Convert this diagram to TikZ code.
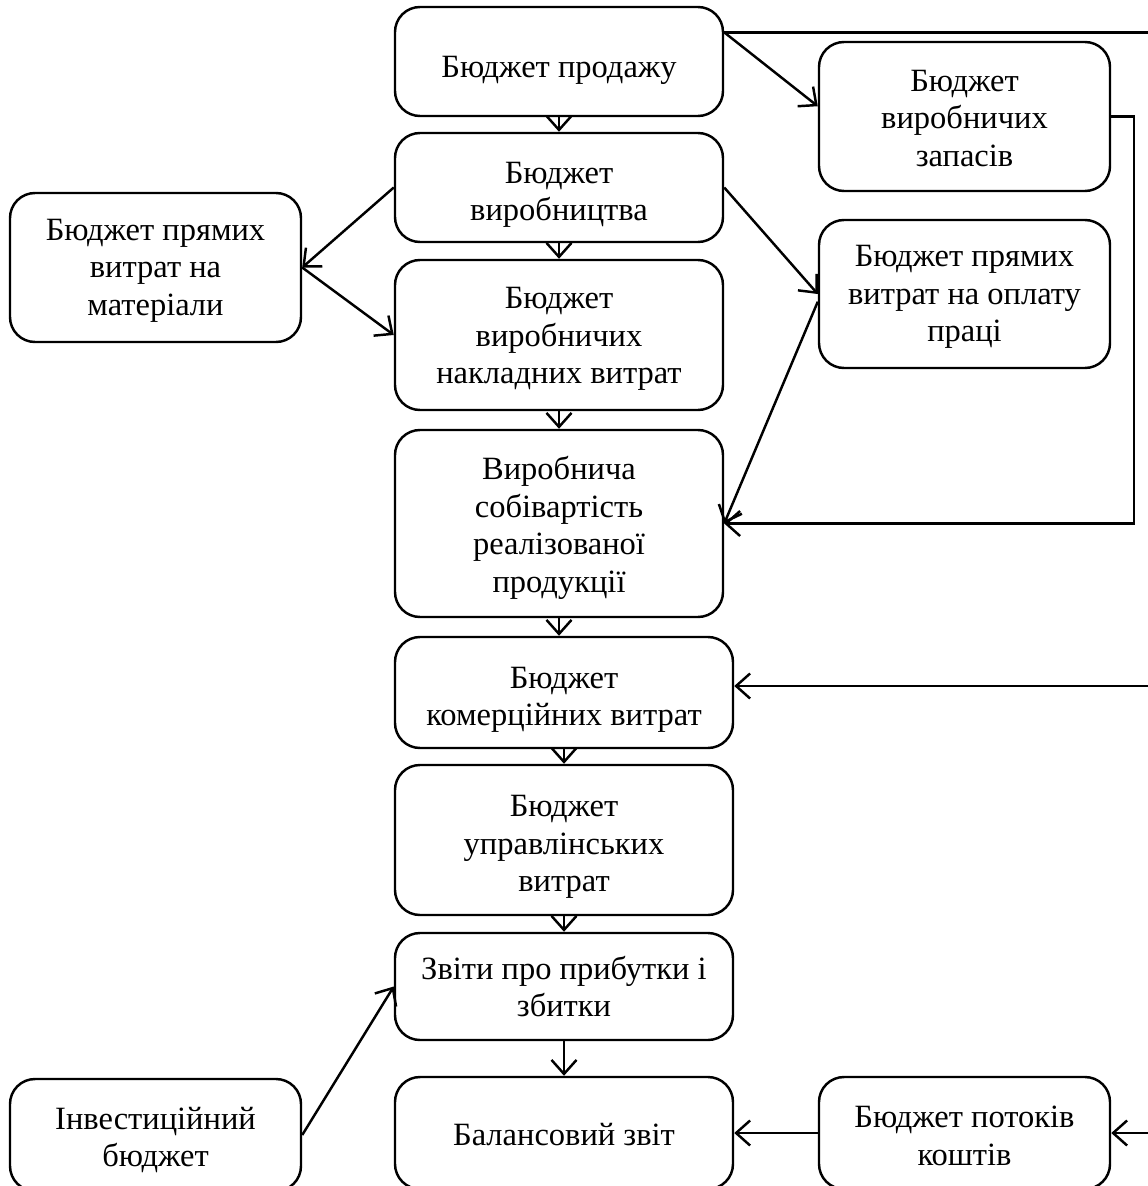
\documentclass[tikz,border=0pt]{standalone}
\usepackage{fontspec}
\setmainfont{Liberation Serif}
\usepackage{tikz}
\usetikzlibrary{positioning,calc,arrows.meta}

\begin{document}
\begin{tikzpicture}[
    x=0.02cm, y=-0.02cm,
    line width=1.4pt,
    >={Straight Barb[length=2.8mm,width=5mm]},
    box/.style={rectangle, draw, rounded corners=0.5cm},
    sz/.style 2 args={minimum width=#1*0.02cm, minimum height=#2*0.02cm},
    txt/.style={align=center, inner sep=0pt, yshift=-(#1)*0.02cm},
    font=\fontsize{18.5}{21.3}\selectfont
]
\useasboundingbox (0,0) rectangle (1148,1186);

% central column
\node[box, sz={328}{109}, label={[txt=9]center:Бюджет продажу}] (sales) at (559,61.5) {};
\node[box, sz={328}{109}, label={[txt=7.5]center:Бюджет\\виробництва}] (prod) at (559,187.5) {};
\node[box, sz={328}{150}, label={[txt=4]center:Бюджет\\виробничих\\накладних витрат}] (overhead) at (559,335) {};
\node[box, sz={328}{187}, label={[txt=4.5]center:Виробнича\\собівартість\\реалізованої\\продукції}] (cost) at (559,523.5) {};
\node[box, sz={338}{111}, label={[txt=7.5]center:Бюджет\\комерційних витрат}] (comm) at (564,692.5) {};
\node[box, sz={338}{150}, label={[txt=7]center:Бюджет\\управлінських\\витрат}] (admin) at (564,840) {};
\node[box, sz={338}{107}, label={[txt=0]center:Звіти про прибутки і\\збитки}] (report) at (564,986.5) {};
\node[box, sz={338}{112}, label={[txt=2]center:Балансовий звіт}] (balance) at (564,1133) {};

% side boxes
\node[box, sz={291}{149}, label={[txt=3]center:Бюджет прямих\\витрат на\\матеріали}] (mater) at (155.5,267.5) {};
\node[box, sz={291}{149}, label={[txt=2]center:Бюджет\\виробничих\\запасів}] (stock) at (964.5,116.5) {};
\node[box, sz={291}{148}, label={[txt=3]center:Бюджет прямих\\витрат на оплату\\праці}] (labour) at (964.5,294) {};
\node[box, sz={291}{112}, label={[txt=5]center:Інвестиційний\\бюджет}] (invest) at (155.5,1135) {};
\node[box, sz={291}{112}, label={[txt=3]center:Бюджет потоків\\коштів}] (cash) at (964.5,1133) {};

% free ends at the right edge
\coordinate (topR) at (1160,31);
\coordinate (commR) at (1160,686);
\coordinate (cashR) at (1160,1133);

% vertical flow
\draw[->] (sales.south) -- (prod.north);
\draw[->] (prod.south) -- (overhead.north);
\draw[->] (overhead.south) -- (cost.north);
\draw[->] (cost.south) -- (cost.south |- comm.north);
\draw[->] (comm.south) -- (admin.north);
\draw[->] (admin.south) -- (admin.south |- report.north);
\draw[->] (report.south) -- (balance.north);

% side links
\draw[->] (sales.10.5) -- (stock.176);
\draw (sales.10.5) -- (sales.10.5 -| topR);
\draw[->] (prod.west) -- (mater.east);
\draw[->] (mater.east) -- (overhead.west);
\draw[->] (prod.east) -- (labour.west);
\draw[->] (labour.183) -- (cost.east);
\draw[->] (stock.east) -- ++(23,0) |- (cost.east);
\draw[->] (commR) -- (commR -| comm.east);
\draw[->] (invest.east) -- (report.west);
\draw[->] (cash.west) -- (cash.west -| balance.east);
\draw[->] (cashR) -- (cash.east);
\end{tikzpicture}
\end{document}
